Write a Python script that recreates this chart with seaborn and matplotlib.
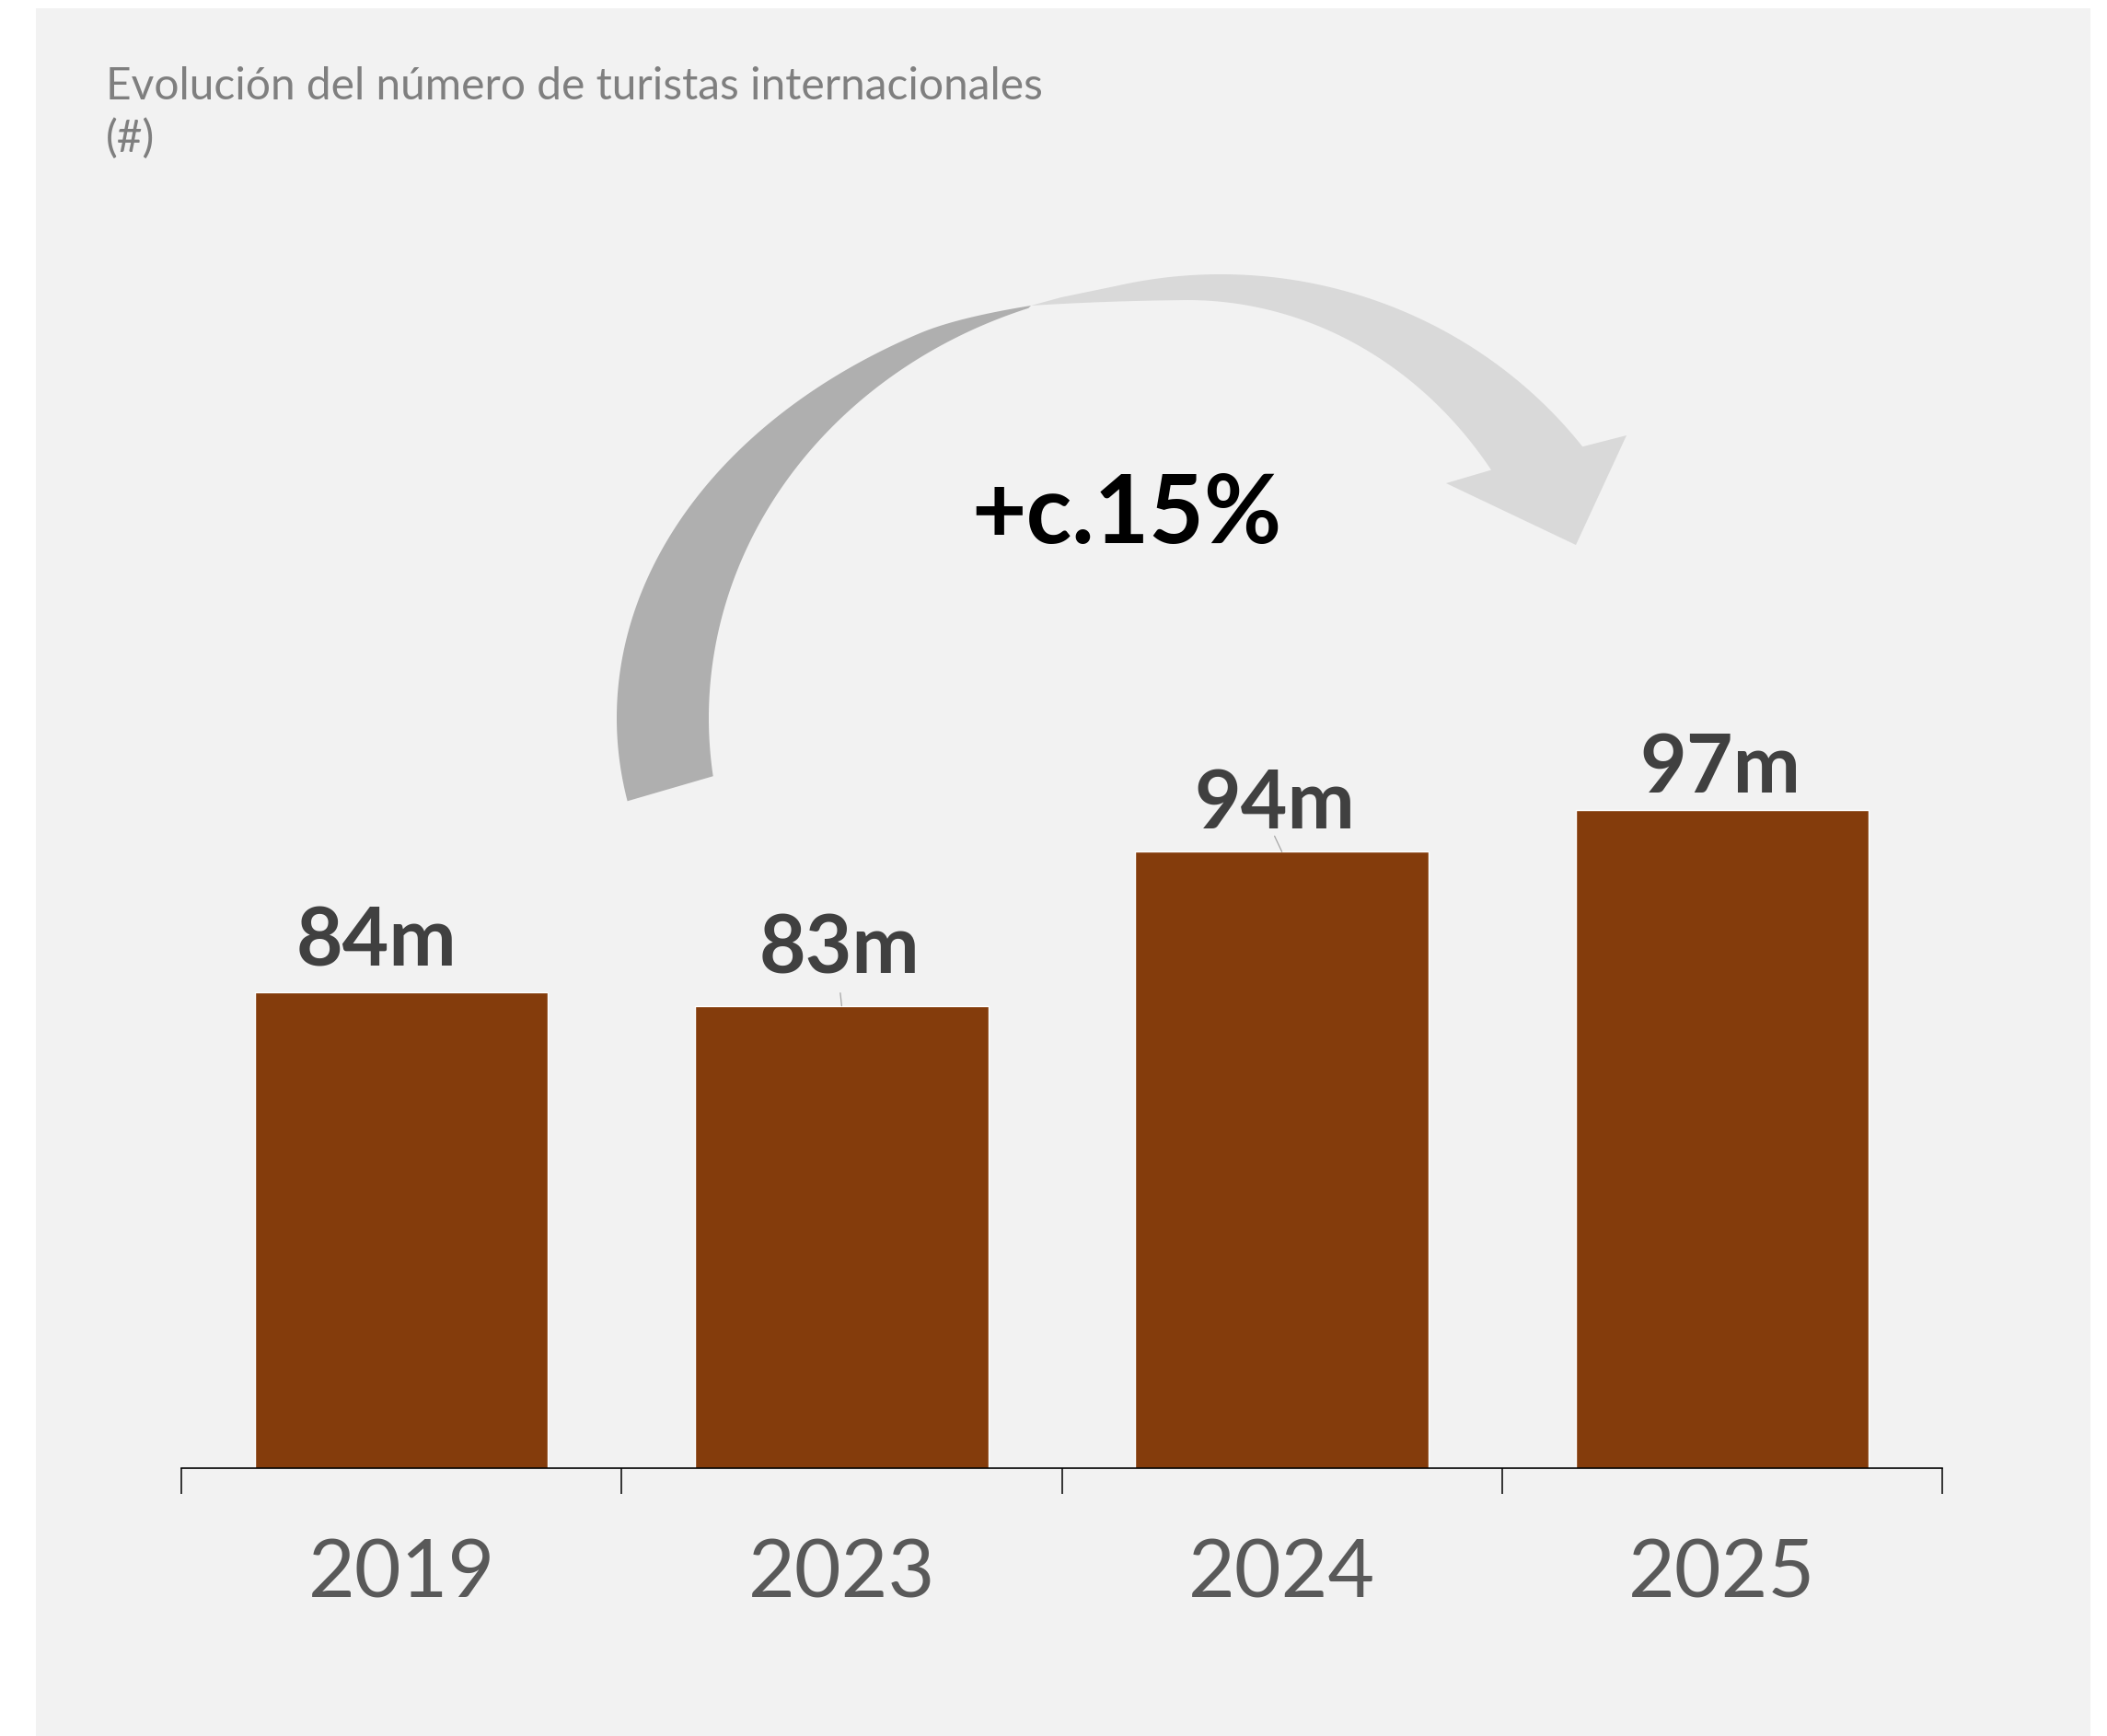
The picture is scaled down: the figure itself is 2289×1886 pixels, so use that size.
import numpy as np
import pandas as pd
import matplotlib
matplotlib.use("Agg")
import matplotlib.pyplot as plt
import seaborn as sns
from matplotlib.patches import Polygon, Rectangle
from matplotlib.transforms import Affine2D

# ---- data -------------------------------------------------------------
years = ["2019", "2023", "2024", "2025"]
tourists_m = [84, 83, 94, 97]          # international tourists, millions
value_labels = ["84m", "83m", "94m", "97m"]
growth_label = "+c.15%"
title_line1 = "Evolución del número de turistas internacionales"
title_line2 = "(#)"

# ---- styling ----------------------------------------------------------
BAR_COLOR = "#843C0C"
PANEL_COLOR = "#f2f2f2"
ARROW_BACK = "#afafaf"
ARROW_FRONT = "#d9d9d9"
# per-label nudges (pixels): horizontal shift, gap above the bar top
label_dx = [-27, -2, -8, -2]
label_gap = [28, 35, 25, 19]
# leader lines (pixels from bar top) for labels that were moved
leaders = {1: (-1.5, 14), 2: (-8, 17)}

sns.set_theme(style="white")
plt.rcParams["font.family"] = ["Lato", "DejaVu Sans"]

W, H = 2289, 1886
fig = plt.figure(figsize=(W / 100, H / 100), dpi=100, facecolor="white")
# pixel coordinates with origin at the top-left corner of the canvas
px = Affine2D().scale(1 / W, -1 / H).translate(0, 1) + fig.transFigure

fig.add_artist(Rectangle((39, 9), 2232, 1877, transform=px,
                         facecolor=PANEL_COLOR, edgecolor="none", zorder=-10))

PX_PER_UNIT = 15.22
ax = fig.add_axes([197 / W, 1 - 1595 / H, (2110 - 197) / W, 90 * PX_PER_UNIT / H])
ax.patch.set_alpha(0)

df = pd.DataFrame({"year": years, "tourists": tourists_m})
sns.barplot(data=df, x="year", y="tourists", color=BAR_COLOR, saturation=1,
            width=0.666, ax=ax, zorder=3)

ax.set_xlim(-0.5, 3.5)
ax.set_ylim(50, 140)
ax.set_xlabel("")
ax.set_ylabel("")
ax.set_yticks([])
for s in ("left", "top", "right"):
    ax.spines[s].set_visible(False)
ax.spines["bottom"].set_color("black")
ax.spines["bottom"].set_linewidth(1.2)
ax.spines["bottom"].set_zorder(4)

ax.set_xticks(range(len(years)))
ax.set_xticklabels(years)
ax.set_xticks(np.arange(-0.5, len(years), 1.0), minor=True)
ax.tick_params(axis="x", which="major", length=0, pad=55, labelsize=63,
               labelcolor="#595959")
ax.tick_params(axis="x", which="minor", bottom=True, length=20.2, width=1.1,
               color="black", direction="out")

for i, (v, lab) in enumerate(zip(tourists_m, value_labels)):
    ax.annotate(lab, xy=(i, v), xytext=(label_dx[i] * 0.72, label_gap[i] * 0.72),
                textcoords="offset points", ha="center", va="baseline",
                fontsize=63, fontweight="bold", color="#404040")
for i, (ldx, ldy) in leaders.items():
    ax.annotate("", xy=(i, tourists_m[i]), xytext=(ldx * 0.72, ldy * 0.72),
                textcoords="offset points",
                arrowprops=dict(arrowstyle="-", color="#a6a6a6", lw=0.9,
                                shrinkA=0, shrinkB=0))


# ---- curved growth arrow ---------------------------------------------
def arc(cx, cy, rx, ry, t0, t1, n=160):
    t = np.radians(np.linspace(t0, t1, n))
    return np.column_stack([cx + rx * np.cos(t), cy - ry * np.sin(t)])


def bezier(p0, c, p1, n=40):
    s = np.linspace(0, 1, n)[:, None]
    p0, c, p1 = map(np.asarray, (p0, c, p1))
    return (1 - s) ** 2 * p0 + 2 * (1 - s) * s * c + s ** 2 * p1


tip = np.array([1120.0, 332.0])   # where the back and front ribbons meet

front_inner = arc(1290, 780, 410, 454, 36.4, 91.4)
front = np.vstack([
    [tip],
    [[1153, 323]],
    arc(1326, 780, 497, 482, 103.1, 37.7),
    [[1767, 473], [1712, 592], [1571, 525]],
    front_inner,
    bezier(front_inner[-1], (1200, 327), tip)[1:-1],
])
back_outer = arc(1326, 780, 656, 482, 190.8, 119.8)
back = np.vstack([
    back_outer,
    bezier(back_outer[-1], (1040, 345), tip)[1:],
    arc(1290, 780, 520, 472, 109.4, 187.7),
])
fig.add_artist(Polygon(front, closed=True, transform=px, facecolor=ARROW_FRONT,
                       edgecolor="none", zorder=1))
fig.add_artist(Polygon(back, closed=True, transform=px, facecolor=ARROW_BACK,
                       edgecolor="none", zorder=2))

fig.text(1223.5, 590, growth_label, transform=px, ha="center", va="baseline",
         fontsize=74, fontweight="bold", color="black", zorder=5)

# ---- title ------------------------------------------------------------
fig.text(115, 108, title_line1, transform=px, ha="left", va="baseline",
         fontsize=34.5, color="#7f7f7f")
fig.text(115, 165, title_line2, transform=px, ha="left", va="baseline",
         fontsize=34.5, color="#7f7f7f")

fig.savefig("out.png", dpi=100, facecolor="white")
